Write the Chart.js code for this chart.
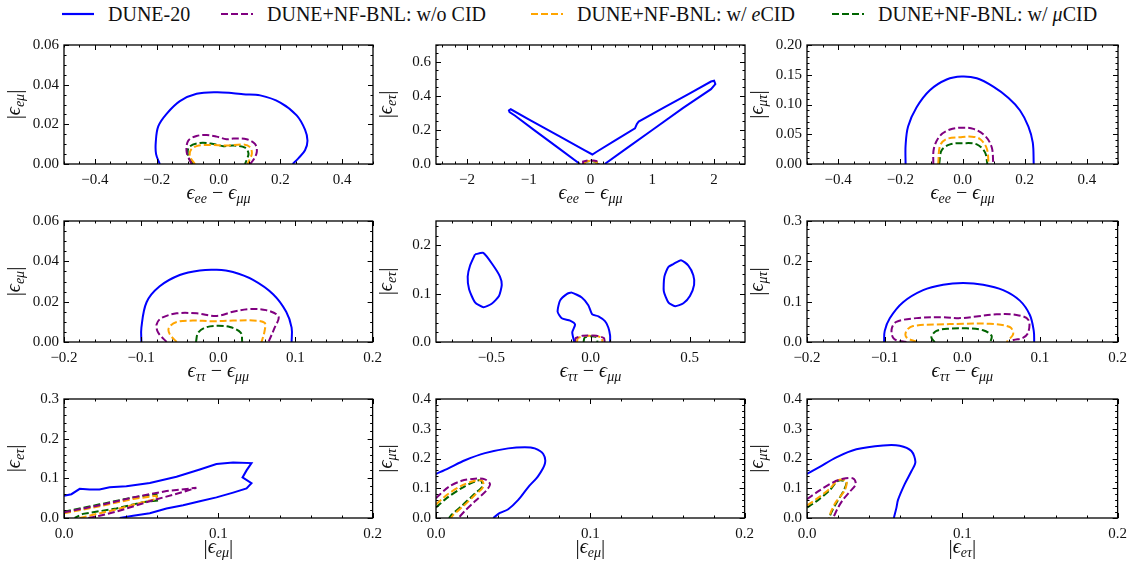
<!DOCTYPE html>
<html>
<head>
<meta charset="utf-8">
<script src="https://cdn.jsdelivr.net/npm/chart.js@4.4.0/dist/chart.umd.min.js"></script>
<style>
  body { margin: 0; background: #fff; width: 1135px; height: 567px; position: relative; overflow: hidden; font-family: "Liberation Serif", serif; color: #111; }
  canvas { position: absolute; }
  .legend-item { position: absolute; top: 2px; font-size: 20px; line-height: 24px; white-space: nowrap; display: flex; align-items: center; }
  .legend-item svg { margin-right: 14px; }
</style>
</head>
<body>
<script>
// ---- series (shared by every panel) ----
const seriesNames = ["DUNE-20", "DUNE+NF-BNL: w/o CID", "DUNE+NF-BNL: w/ <i>e</i>CID", "DUNE+NF-BNL: w/ <i>μ</i>CID"];
const seriesColors = ["#0000ff", "#800080", "#ffa500", "#006400"];

// ---- contours: eps_ee - eps_mumu vs |eps_emu| ----
const p11Dune = [[-0.19,0],[-0.202,0.005],[-0.203,0.011],[-0.195,0.019],[-0.168,0.0253],[-0.125,0.0317],[-0.071,0.0354],[-0.006,0.0362],[0.048,0.0357],[0.08,0.0352],[0.135,0.0346],[0.2,0.031],[0.253,0.0245],[0.28,0.0173],[0.288,0.0117],[0.28,0.0069],[0.259,0.003],[0.24,0]];
const p11NoCid = [[-0.087,0],[-0.103,0.006],[-0.098,0.0117],[-0.071,0.0141],[-0.038,0.0146],[-0.006,0.0138],[0.026,0.0125],[0.048,0.0128],[0.091,0.0125],[0.118,0.0101],[0.124,0.0061],[0.113,0.0021],[0.102,0]];
const p11ECid = [[-0.076,0],[-0.092,0.0037],[-0.09,0.0069],[-0.071,0.009],[-0.028,0.0096],[0.026,0.0093],[0.08,0.0098],[0.102,0.0085],[0.108,0.0053],[0.1,0.002],[0.094,0]];
const p11MuCid = [[-0.082,0],[-0.098,0.0037],[-0.095,0.0085],[-0.06,0.0106],[-0.017,0.0101],[0.016,0.009],[0.048,0.0093],[0.086,0.0082],[0.097,0.0053],[0.091,0.002],[0.086,0]];

// ---- eps_ee - eps_mumu vs |eps_etau| ----
const p12Dune = [[-0.17,0],[-0.5,0.089],[-0.9,0.196],[-1.22,0.284],[-1.31,0.305],[-1.32,0.315],[-1.29,0.322],[-1.0,0.263],[-0.5,0.163],[-0.1,0.082],[0.03,0.056],[0.1,0.072],[0.4,0.139],[0.72,0.21],[0.75,0.235],[0.78,0.25],[1.2,0.334],[1.6,0.414],[1.95,0.485],[2.0,0.49],[2.02,0.47],[1.95,0.44],[1.5,0.33],[1.0,0.2],[0.6,0.096],[0.23,0]];
const p12NoCid = [[-0.12,0],[-0.12,0.015],[-0.05,0.021],[0.05,0.021],[0.13,0.015],[0.13,0]];
const p12ECid = [[-0.09,0],[-0.09,0.012],[-0.03,0.017],[0.04,0.017],[0.1,0.012],[0.1,0]];
const p12MuCid = [[-0.1,0],[-0.1,0.011],[-0.04,0.016],[0.04,0.016],[0.1,0.011],[0.1,0]];

// ---- eps_ee - eps_mumu vs |eps_mutau| ----
const p13Dune = [[-0.183,0],[-0.183,0.031],[-0.175,0.063],[-0.148,0.095],[-0.105,0.124],[-0.051,0.142],[-0.003,0.147],[0.046,0.144],[0.099,0.13],[0.148,0.111],[0.185,0.09],[0.212,0.063],[0.226,0.036],[0.229,0]];
const p13NoCid = [[-0.094,0],[-0.092,0.026],[-0.073,0.047],[-0.04,0.058],[-0.003,0.061],[0.035,0.059],[0.073,0.047],[0.094,0.028],[0.099,0]];
const p13ECid = [[-0.078,0],[-0.072,0.031],[-0.051,0.042],[-0.008,0.045],[0.03,0.046],[0.056,0.042],[0.078,0.026],[0.084,0]];
const p13MuCid = [[-0.075,0],[-0.067,0.023],[-0.04,0.033],[0.003,0.035],[0.046,0.033],[0.072,0.02],[0.08,0]];

// ---- eps_tautau - eps_mumu vs |eps_emu| ----
const p21Dune = [[-0.0997,0],[-0.0997,0.0071],[-0.093,0.0197],[-0.076,0.0276],[-0.05,0.0332],[-0.024,0.0355],[-0.002,0.0358],[0.019,0.0347],[0.045,0.0308],[0.071,0.0237],[0.088,0.015],[0.095,0.0071],[0.095,0]];
const p21NoCid = [[-0.067,0],[-0.078,0.0047],[-0.08,0.0087],[-0.074,0.0118],[-0.054,0.0142],[-0.028,0.0142],[-0.002,0.0129],[0.019,0.015],[0.041,0.0163],[0.062,0.0158],[0.078,0.0126],[0.073,0.0071],[0.065,0]];
const p21ECid = [[-0.054,0],[-0.063,0.0039],[-0.064,0.0071],[-0.054,0.0099],[-0.033,0.0106],[-0.007,0.0103],[0.019,0.0106],[0.045,0.0107],[0.06,0.0095],[0.06,0.0055],[0.056,0]];
const p21MuCid = [[-0.029,0],[-0.026,0.0047],[-0.015,0.0074],[0,0.008],[0.015,0.0074],[0.029,0.0047],[0.031,0]];

// ---- eps_tautau - eps_mumu vs |eps_etau| (three separate DUNE islands) ----
const p22DuneLeft = [[-0.583,0.181],[-0.541,0.184],[-0.491,0.158],[-0.457,0.135],[-0.448,0.118],[-0.462,0.095],[-0.499,0.079],[-0.541,0.072],[-0.583,0.082],[-0.613,0.109],[-0.62,0.135],[-0.608,0.158],[-0.583,0.181]];
const p22DuneMid = [[-0.082,0],[-0.092,0.02],[-0.078,0.036],[-0.103,0.044],[-0.145,0.049],[-0.166,0.0625],[-0.154,0.0855],[-0.12,0.099],[-0.095,0.102],[-0.044,0.092],[-0.011,0.076],[0.009,0.057],[0.04,0.053],[0.073,0.043],[0.09,0.03],[0.099,0.013],[0.099,0]];
const p22DuneRight = [[0.418,0.161],[0.457,0.169],[0.494,0.158],[0.519,0.138],[0.523,0.118],[0.502,0.095],[0.469,0.08],[0.427,0.074],[0.393,0.082],[0.37,0.105],[0.373,0.135],[0.393,0.155],[0.418,0.161]];
const p22NoCid = [[-0.078,0],[-0.075,0.008],[-0.04,0.013],[0.03,0.013],[0.068,0.008],[0.072,0]];
const p22ECid = [[-0.068,0],[-0.064,0.008],[-0.03,0.0125],[0.03,0.0125],[0.058,0.008],[0.06,0]];
const p22MuCid = [[-0.035,0],[-0.03,0.009],[0,0.012],[0.03,0.01],[0.035,0]];

// ---- eps_tautau - eps_mumu vs |eps_mutau| ----
const p23Dune = [[-0.1007,0],[-0.0999,0.0276],[-0.0934,0.059],[-0.0763,0.0987],[-0.0505,0.1287],[-0.0247,0.1421],[0.001,0.146],[0.0268,0.1421],[0.0526,0.1287],[0.0741,0.1026],[0.087,0.067],[0.092,0.0276],[0.0926,0]];
const p23NoCid = [[-0.072,0],[-0.088,0.0079],[-0.091,0.0316],[-0.085,0.0497],[-0.059,0.0592],[-0.0247,0.0616],[-0.0032,0.0592],[0.018,0.0632],[0.044,0.0687],[0.0698,0.0671],[0.0849,0.0553],[0.0849,0.0237],[0.078,0.0103],[0.066,0.005],[0.06,0]];
const p23ECid = [[-0.059,0],[-0.072,0.0118],[-0.072,0.0276],[-0.0634,0.0395],[-0.0333,0.0434],[0.001,0.045],[0.0354,0.045],[0.0612,0.0371],[0.0655,0.0197],[0.059,0.004],[0.057,0]];
const p23MuCid = [[-0.0355,0],[-0.0398,0.0118],[-0.0333,0.0276],[-0.016,0.0332],[0.0054,0.034],[0.0268,0.0292],[0.0376,0.0158],[0.0363,0]];

// ---- |eps_emu| vs |eps_etau| ----
const p31Dune = [[0,0.056],[0.0048,0.06],[0.0102,0.0736],[0.0166,0.072],[0.023,0.072],[0.0296,0.0776],[0.0404,0.08],[0.0556,0.088],[0.0729,0.104],[0.088,0.1224],[0.0988,0.136],[0.1096,0.14],[0.1215,0.1384],[0.1183,0.12],[0.1157,0.1024],[0.1215,0.088],[0.1183,0.0744],[0.1096,0.064],[0.0988,0.052],[0.088,0.0424],[0.0772,0.032],[0.0664,0.024],[0.0556,0.012],[0.0448,0.0056],[0.0361,0]];
const p31NoCid = [[0,0.0144],[0.0231,0.032],[0.0448,0.052],[0.0664,0.068],[0.0858,0.076],[0.0772,0.0656],[0.0556,0.0424],[0.034,0.016],[0.0231,0.0056],[0.0156,0]];
const p31ECid = [[0,0.012],[0.0231,0.0296],[0.0448,0.048],[0.0599,0.056],[0.0603,0.048],[0.0512,0.04],[0.034,0.0216],[0.0188,0.008],[0.0102,0]];
const p31MuCid = [[0,0.016],[0.0231,0.0344],[0.0448,0.052],[0.0599,0.06],[0.0603,0.044],[0.0512,0.04],[0.034,0.024],[0.0123,0.0104],[0.0069,0]];

// ---- |eps_emu| vs |eps_mutau| ----
const p32Dune = [[0,0.148],[0.008,0.167],[0.0188,0.194],[0.0317,0.218],[0.0468,0.234],[0.0576,0.238],[0.064,0.234],[0.0695,0.215],[0.0706,0.183],[0.0662,0.141],[0.0598,0.104],[0.0533,0.061],[0.0468,0.0296],[0.0414,0.0169],[0.0371,0]];
const p32NoCid = [[0,0.0667],[0.008,0.104],[0.0166,0.125],[0.0252,0.132],[0.0317,0.13],[0.035,0.114],[0.0328,0.093],[0.0252,0.056],[0.0188,0.0243],[0.0145,0]];
const p32ECid = [[0,0.0455],[0.0069,0.077],[0.0166,0.109],[0.0252,0.125],[0.03,0.125],[0.0306,0.104],[0.0252,0.077],[0.0177,0.04],[0.0112,0.0106],[0.0097,0]];
const p32MuCid = [[0,0.035],[0.0069,0.0667],[0.0166,0.1005],[0.0252,0.123],[0.029,0.127],[0.03,0.106],[0.0252,0.0825],[0.0166,0.0402],[0.0101,0.0106],[0.0084,0]];

// ---- |eps_etau| vs |eps_mutau| ----
const p33Dune = [[0,0.148],[0.0082,0.172],[0.0189,0.204],[0.0318,0.231],[0.049,0.244],[0.0597,0.243],[0.0672,0.225],[0.0698,0.188],[0.0672,0.157],[0.0629,0.114],[0.0586,0.061],[0.0576,0.0349],[0.0559,0]];
const p33NoCid = [[0,0.0635],[0.0082,0.093],[0.0168,0.12],[0.0232,0.132],[0.0296,0.133],[0.0314,0.114],[0.0275,0.088],[0.0232,0.0614],[0.02,0.0349],[0.0168,0]];
const p33ECid = [[0,0.0423],[0.006,0.0635],[0.0146,0.098],[0.02,0.127],[0.0253,0.125],[0.0243,0.093],[0.0189,0.056],[0.0157,0.0243],[0.0142,0]];
const p33MuCid = [[0,0.035],[0.006,0.056],[0.0146,0.093],[0.02,0.125],[0.0253,0.12],[0.0232,0.088],[0.0189,0.0508],[0.0157,0.019],[0.0142,0]];

// ---- tick labels ----
const eeTicks = [-0.4, -0.2, 0, 0.2, 0.4];
const eeWideTicks = [-2, -1, 0, 1, 2];
const ttTicks = [-0.2, -0.1, 0, 0.1, 0.2];
const ttWideTicks = [-0.5, 0, 0.5];
const absTicks = [0, 0.1, 0.2];
const emuTicks = [0, 0.02, 0.04, 0.06];
const etauWideTicks = [0, 0.2, 0.4, 0.6];
const mutauFineTicks = [0, 0.05, 0.1, 0.15, 0.2];
const etauMidTicks = [0, 0.1, 0.2];
const tenthTo3Ticks = [0, 0.1, 0.2, 0.3];
const tenthTo4Ticks = [0, 0.1, 0.2, 0.3, 0.4];

// axis title pieces: [text, kind]  kind: r = roman, i = math italic, s = subscript, b = big bar
const lblEE = [["ϵ","i"],["ee","s"],[" − ","r"],["ϵ","i"],["μμ","s"]];
const lblTT = [["ϵ","i"],["ττ","s"],[" − ","r"],["ϵ","i"],["μμ","s"]];
const lblEmu = [["|","b"],["ϵ","i"],["eμ","s"],["|","b"]];
const lblEtau = [["|","b"],["ϵ","i"],["eτ","s"],["|","b"]];
const lblMutau = [["|","b"],["ϵ","i"],["μτ","s"],["|","b"]];

const colLeft = [64, 436, 807], colWidth = [309, 309, 311];
const rowTop = [39, 215, 393], rowHeight = [125, 127, 125];

const panels = [
  { r:0, c:0, curves:[[p11Dune,0],[p11NoCid,1],[p11ECid,2],[p11MuCid,3]], x:[-0.5,0.5], y:[0,0.06], xt:eeTicks, yt:emuTicks, xd:1, yd:2, xm:0.05, ym:0.005, xl:lblEE, yl:lblEmu, tension:0.35 },
  { r:0, c:1, curves:[[p12Dune,0],[p12NoCid,1],[p12ECid,2],[p12MuCid,3]], x:[-2.5,2.5], y:[0,0.7], xt:eeWideTicks, yt:etauWideTicks, xd:0, yd:1, xm:0.2, ym:0.05, xl:lblEE, yl:lblEtau, tension:0 },
  { r:0, c:2, curves:[[p13Dune,0],[p13NoCid,1],[p13ECid,2],[p13MuCid,3]], x:[-0.5,0.5], y:[0,0.2], xt:eeTicks, yt:mutauFineTicks, xd:1, yd:2, xm:0.05, ym:0.01, xl:lblEE, yl:lblMutau, tension:0.35 },
  { r:1, c:0, curves:[[p21Dune,0],[p21NoCid,1],[p21ECid,2],[p21MuCid,3]], x:[-0.2,0.2], y:[0,0.06], xt:ttTicks, yt:emuTicks, xd:1, yd:2, xm:0.02, ym:0.005, xl:lblTT, yl:lblEmu, tension:0.35 },
  { r:1, c:1, curves:[[p22DuneLeft,0],[p22DuneMid,0],[p22DuneRight,0],[p22NoCid,1],[p22ECid,2],[p22MuCid,3]], x:[-0.78,0.78], y:[0,0.25], xt:ttWideTicks, yt:etauMidTicks, xd:1, yd:1, xm:0.1, ym:0.02, xl:lblTT, yl:lblEtau, tension:0.2 },
  { r:1, c:2, curves:[[p23Dune,0],[p23NoCid,1],[p23ECid,2],[p23MuCid,3]], x:[-0.2,0.2], y:[0,0.3], xt:ttTicks, yt:tenthTo3Ticks, xd:1, yd:1, xm:0.02, ym:0.02, xl:lblTT, yl:lblMutau, tension:0.35 },
  { r:2, c:0, curves:[[p31Dune,0],[p31NoCid,1],[p31ECid,2],[p31MuCid,3]], x:[0,0.2], y:[0,0.3], xt:absTicks, yt:tenthTo3Ticks, xd:1, yd:1, xm:0.02, ym:0.02, xl:lblEmu, yl:lblEtau, tension:0 },
  { r:2, c:1, curves:[[p32Dune,0],[p32NoCid,1],[p32ECid,2],[p32MuCid,3]], x:[0,0.2], y:[0,0.4], xt:absTicks, yt:tenthTo4Ticks, xd:1, yd:1, xm:0.02, ym:0.02, xl:lblEmu, yl:lblMutau, tension:0.3 },
  { r:2, c:2, curves:[[p33Dune,0],[p33NoCid,1],[p33ECid,2],[p33MuCid,3]], x:[0,0.2], y:[0,0.4], xt:absTicks, yt:tenthTo4Ticks, xd:1, yd:1, xm:0.02, ym:0.02, xl:lblEtau, yl:lblMutau, tension:0.3 }
];

const FONT = '"Liberation Serif", "DejaVu Serif", serif';
const PAD_L = 64, PAD_T = 8, PAD_R = 16, PAD_B = 48;

function fmt(v, d) {
  const s = Math.abs(v).toFixed(d);
  return (v < -1e-12 ? "−" : "") + s;
}

// legend row
seriesNames.forEach((name, i) => {
  const lefts = [62, 221, 531, 832];
  const div = document.createElement("div");
  div.className = "legend-item";
  div.style.left = lefts[i] + "px";
  const dash = i === 0 ? "" : ' stroke-dasharray="7 3"';
  div.innerHTML = '<svg width="32" height="6"><line x1="0" y1="3" x2="32" y2="3" stroke="' + seriesColors[i] + '" stroke-width="2.2"' + dash + '/></svg><span>' + name + '</span>';
  document.body.appendChild(div);
});

// frame with inward major/minor ticks on all four sides
const frameTicks = {
  id: "frameTicks",
  afterDatasetsDraw(chart, args, opts) {
    const { ctx, chartArea: a, scales } = chart;
    ctx.save();
    ctx.strokeStyle = "#000";
    ctx.lineWidth = 1;
    const draw = (scale, horiz, step) => {
      const majors = scale.ticks.map(t => t.value);
      const marks = majors.map(v => [v, 5]);
      const k0 = Math.ceil(scale.min / step - 1e-6), k1 = Math.floor(scale.max / step + 1e-6);
      for (let k = k0; k <= k1; k++) {
        const v = k * step;
        if (!majors.some(m => Math.abs(m - v) < step * 0.01)) marks.push([v, 2.5]);
      }
      ctx.beginPath();
      marks.forEach(([v, len]) => {
        const p = Math.round(scale.getPixelForValue(v)) + 0.5;
        if (horiz) {
          ctx.moveTo(p, a.bottom); ctx.lineTo(p, a.bottom - len);
          ctx.moveTo(p, a.top); ctx.lineTo(p, a.top + len);
        } else {
          ctx.moveTo(a.left, p); ctx.lineTo(a.left + len, p);
          ctx.moveTo(a.right, p); ctx.lineTo(a.right - len, p);
        }
      });
      ctx.stroke();
    };
    draw(scales.x, true, opts.xm);
    draw(scales.y, false, opts.ym);
    ctx.lineWidth = 1.3;
    ctx.strokeRect(a.left, a.top, a.right - a.left, a.bottom - a.top);
    ctx.restore();
  }
};

// axis titles with subscripts
function drawMath(ctx, parts, cx, cy) {
  const fonts = { r: "20px " + FONT, i: "italic 20px " + FONT, s: "italic 14px " + FONT, b: "21px " + FONT };
  const shift = { r: 0, i: 0, s: 5, b: 0 };
  let total = 0;
  const widths = parts.map(([t, k]) => { ctx.font = fonts[k]; const w = ctx.measureText(t).width; total += w; return w; });
  let x = cx - total / 2;
  ctx.textBaseline = "middle";
  ctx.textAlign = "left";
  parts.forEach(([t, k], i) => {
    ctx.font = fonts[k];
    ctx.fillText(t, x, cy + shift[k]);
    x += widths[i];
  });
}

const axisTitles = {
  id: "axisTitles",
  afterDraw(chart, args, opts) {
    const { ctx, chartArea: a } = chart;
    ctx.save();
    ctx.fillStyle = "#111";
    drawMath(ctx, opts.x, (a.left + a.right) / 2, a.bottom + 30);
    ctx.translate(a.left - 49, (a.top + a.bottom) / 2);
    ctx.rotate(-Math.PI / 2);
    drawMath(ctx, opts.y, 0, 0);
    ctx.restore();
  }
};

panels.forEach(p => {
  const w = colWidth[p.c], h = rowHeight[p.r];
  const cw = w + PAD_L + PAD_R, chh = h + PAD_T + PAD_B;
  const canvas = document.createElement("canvas");
  canvas.width = cw; canvas.height = chh;
  canvas.style.width = cw + "px"; canvas.style.height = chh + "px";
  canvas.style.left = (colLeft[p.c] - PAD_L) + "px";
  canvas.style.top = (rowTop[p.r] - PAD_T) + "px";
  document.body.appendChild(canvas);

  const datasets = p.curves.map(([pts, s]) => ({
    data: pts.map(([x, y]) => ({ x, y })),
    showLine: true,
    borderColor: seriesColors[s],
    borderWidth: 2,
    borderDash: s === 0 ? [] : [7, 3],
    pointRadius: 0,
    tension: p.tension,
    fill: false
  }));

  const tickFont = { family: FONT, size: 15 };
  new Chart(canvas, {
    type: "scatter",
    data: { datasets },
    options: {
      responsive: false,
      animation: false,
      layout: { padding: { left: 0, top: PAD_T, right: PAD_R, bottom: 0 } },
      plugins: {
        legend: { display: false },
        tooltip: { enabled: false },
        frameTicks: { xm: p.xm, ym: p.ym },
        axisTitles: { x: p.xl, y: p.yl }
      },
      scales: {
        x: {
          type: "linear", min: p.x[0], max: p.x[1],
          afterBuildTicks: s => { s.ticks = p.xt.map(v => ({ value: v })); },
          afterFit: s => { s.height = PAD_B; },
          grid: { display: false, drawTicks: false },
          border: { display: false },
          ticks: { font: tickFont, color: "#111", padding: 7, maxRotation: 0, autoSkip: false, callback: v => fmt(v, p.xd) }
        },
        y: {
          type: "linear", min: p.y[0], max: p.y[1],
          afterBuildTicks: s => { s.ticks = p.yt.map(v => ({ value: v })); },
          afterFit: s => { s.width = PAD_L; },
          grid: { display: false, drawTicks: false },
          border: { display: false },
          ticks: { font: tickFont, color: "#111", padding: 5, autoSkip: false, callback: v => fmt(v, p.yd) }
        }
      }
    },
    plugins: [frameTicks, axisTitles]
  });
});
</script>
</body>
</html>
